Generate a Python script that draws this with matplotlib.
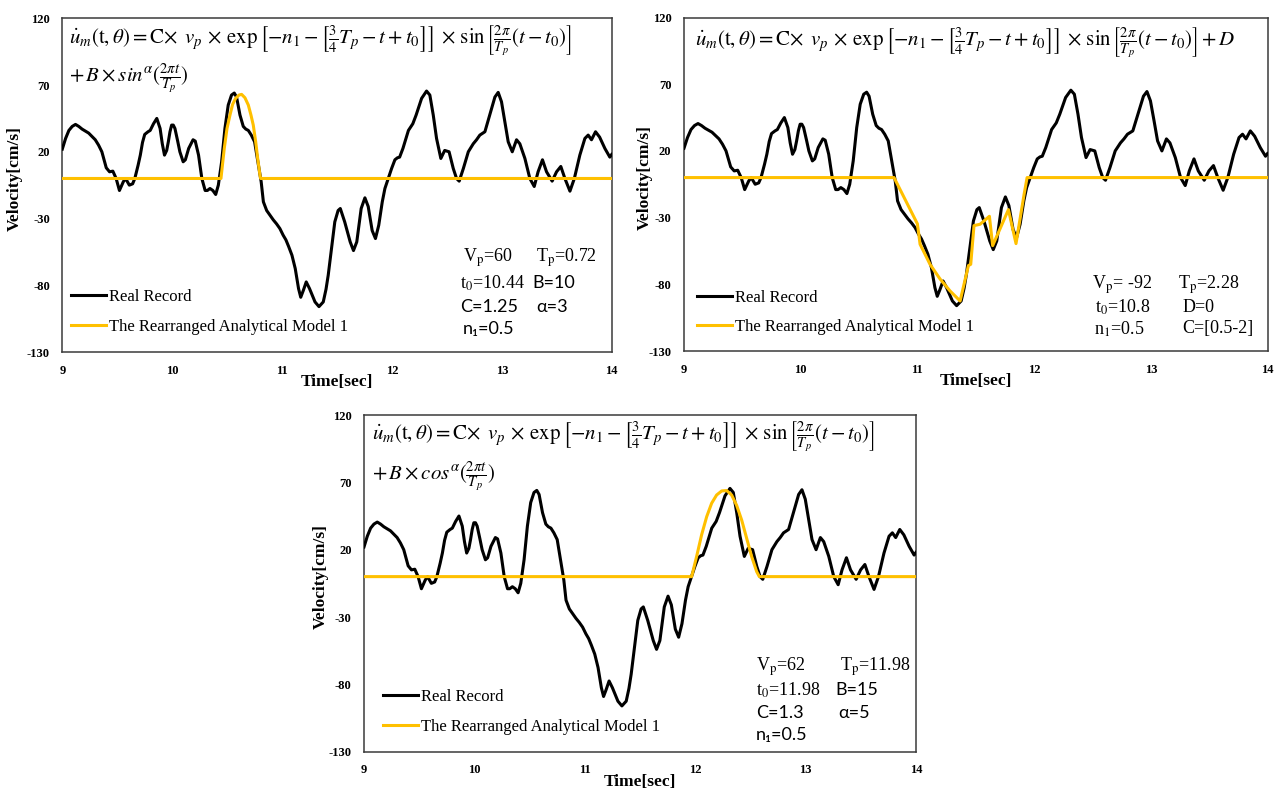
import matplotlib
matplotlib.use('Agg')
import matplotlib.pyplot as plt

# tamaño de la figura en pixeles
W, H = 1278, 793

# registro real (mismo en los tres paneles)
time_rec = [9.00, 9.03, 9.06, 9.09, 9.12, 9.15, 9.18, 9.21, 9.24, 9.27, 9.30, 9.33, 9.36, 9.38,
            9.40, 9.43, 9.46, 9.49, 9.52, 9.555, 9.576, 9.61, 9.64, 9.66, 9.69, 9.71, 9.73, 9.75,
            9.78, 9.80, 9.83, 9.86, 9.89, 9.91, 9.93, 9.95, 9.965, 9.98, 9.995, 10.01, 10.025, 10.05,
            10.07, 10.10, 10.12, 10.15, 10.19, 10.21, 10.24, 10.27, 10.30, 10.32, 10.344, 10.37,
            10.396, 10.42, 10.45, 10.48, 10.51, 10.54, 10.565, 10.586, 10.60, 10.617, 10.647, 10.67,
            10.693, 10.72, 10.75, 10.78, 10.81, 10.83, 10.86, 10.89, 10.92, 10.95, 10.98, 11.01,
            11.035, 11.06, 11.09, 11.12, 11.15, 11.17, 11.193, 11.22, 11.25, 11.30, 11.336, 11.375,
            11.40, 11.42, 11.45, 11.48, 11.51, 11.53, 11.57, 11.62, 11.65, 11.68, 11.72, 11.754,
            11.784, 11.82, 11.85, 11.88, 11.912, 11.936, 11.966, 11.997, 12.027, 12.05, 12.07, 12.10,
            12.15, 12.19, 12.22, 12.27, 12.315, 12.345, 12.376, 12.406, 12.445, 12.48, 12.52, 12.558,
            12.588, 12.612, 12.65, 12.695, 12.74, 12.77, 12.80, 12.846, 12.89, 12.937, 12.967, 12.997,
            13.028, 13.058, 13.095, 13.134, 13.164, 13.21, 13.255, 13.295, 13.33, 13.37, 13.407,
            13.458, 13.498, 13.537, 13.574, 13.62, 13.66, 13.71, 13.756, 13.786, 13.816, 13.853,
            13.89, 13.938, 13.983, 14.0]
vel_rec = [22, 30, 36, 39, 40.5, 39, 37, 35.5, 34, 31.5, 29, 25, 20, 14,
           8, 5, 5.5, 0, -9, -2.5, 0, -5, -4, 0, 10, 17.5, 27, 33,
           35, 36, 41, 45, 37.5, 26, 17.5, 21, 27.5, 35, 40, 40, 37.5, 28,
           20, 12.5, 14, 22.5, 29, 28, 17.5, 0, -9, -9, -7.5, -9,
           -12, -5, 12.5, 37.5, 55, 62.5, 64, 61, 55, 47.5, 39, 37,
           36, 32.5, 27.5, 12.5, -2.5, -17.5, -24, -27.5, -31, -34, -37.5, -42.5,
           -46, -51, -57.5, -67.5, -82.5, -89, -84, -77.5, -82.5, -92.5, -96, -92.5,
           -83, -72.5, -52.5, -32.5, -24, -22.5, -32.5, -47.5, -54, -47.5, -22.5, -14.5,
           -21, -39, -45, -35, -17.5, -7.5, 0, 7.5, 14, 15.5, 16, 22.5,
           36, 41, 47.5, 60, 65.5, 62.5, 47.5, 30, 15, 21, 20, 7.5,
           0, -2, 7.5, 20, 26, 29, 32.5, 35, 47.5, 61, 64.5, 57.5,
           42.5, 27.5, 20, 29, 26, 15, 0, -6, 5, 14, 5,
           -2, 5, 9, 0, -9.5, 0, 17.5, 30, 32.5, 29, 35,
           31, 22.5, 16, 18]

# modelo analitico de cada panel
t_model_a = [9.0, 10.444, 10.474, 10.499, 10.526, 10.55, 10.577, 10.608, 10.632, 10.662, 10.693,
             10.717, 10.738, 10.76, 10.778, 10.799, 10.805, 14.0]
v_model_a = [0, 0, 22.5, 37.5, 47.5, 55.5, 60, 62.5, 63, 60.5, 55,
             47.5, 40, 27.5, 15, 2.5, 0, 0]

t_model_b = [9.0, 10.80, 11.0, 11.023, 11.108, 11.194, 11.28, 11.366, 11.437, 11.457, 11.485,
             11.537, 11.617, 11.645, 11.78, 11.845, 11.914, 11.94, 14.0]
v_model_b = [0, 0, -34.7, -50, -65, -76, -85, -92.5, -66, -65, -36,
             -35, -29, -51, -24, -49.5, -12.7, 0, 0]

t_model_c = [9.0, 11.968, 12.013, 12.058, 12.104, 12.149, 12.194, 12.24, 12.285, 12.33, 12.375,
             12.421, 12.466, 12.511, 12.557, 12.581, 14.0]
v_model_c = [0, 0, 15, 31, 44.5, 54.5, 60.6, 63.6, 63.9, 60.6, 53,
             42, 28.5, 15, 3.7, 0, 0]

x_ticks = [9, 10, 11, 12, 13, 14]
y_ticks = [120, 70, 20, -30, -80, -130]

# formulas
eq_main = (r'$\dot{u}_m(\mathrm{t},\theta) = \mathrm{C}\!\times\; v_p \,\times\, \mathrm{exp}\,'
           r'\left[-n_1 - \left[\frac{3}{4}T_p - t + t_0\right]\right] \,\times\, \mathrm{sin}\,'
           r'\left[\frac{2\pi}{T_p}(t - t_0)\right]')
eq_a = [eq_main + '$', r'$+\, B \times sin^{\alpha}(\frac{2\pi t}{T_p})$']
eq_b = [eq_main + r' + D$']
eq_c = [eq_main + '$', r'$+\, B \times cos^{\alpha}(\frac{2\pi t}{T_p})$']

plt.rcParams['mathtext.fontset'] = 'stix'
plt.rcParams['font.family'] = 'Liberation Serif'
plt.rcParams['axes.unicode_minus'] = False

YELLOW = '#FFC000'
SERIF = 'Liberation Serif'
SANS = ['Lato', 'DejaVu Sans']

fig = plt.figure(figsize=(W / 100, H / 100), dpi=100)


def fx(x):
    return x / W


def fy(y):
    return 1 - y / H


# cada panel: rectangulo en pixeles (izq, arriba, der, abajo), modelo, formula, parametros
panels = [
    dict(rect=(62.3, 18.3, 611.7, 352), t_mod=t_model_a, v_mod=v_model_a, eq=eq_a,
         eq_pos=[(69, 41), (69, 78)], leg=(0.016, 0.12), ylab_x=-0.072,
         params=[(r'V$_{\rm p}$=60', 463, 258, SERIF), (r'T$_{\rm p}$=0.72', 536, 258, SERIF),
                 (r't$_{\rm 0}$=10.44', 460, 283, SERIF), ('B=10', 532, 283, SANS),
                 ('C=1.25', 460, 307, SANS), ('α=3', 536, 307, SANS),
                 ('n₁=0.5', 463, 329, SANS)]),
    dict(rect=(684, 17.5, 1267.5, 351), t_mod=t_model_b, v_mod=v_model_b, eq=eq_b,
         eq_pos=[(695, 43)], leg=(0.022, 0.115), ylab_x=-0.054,
         params=[(r'V$_{\rm p}$= -92', 1092, 285, SERIF), (r'T$_{\rm p}$=2.28', 1178, 285, SERIF),
                 (r't$_{\rm 0}$=10.8', 1095, 307, SERIF), ('D=0', 1183, 307, SERIF),
                 (r'n$_{\rm 1}$=0.5', 1094, 329, SERIF), ('C=[0.5-2]', 1182, 329, SERIF)]),
    dict(rect=(364, 415, 916, 751.7), t_mod=t_model_c, v_mod=v_model_c, eq=eq_c,
         eq_pos=[(372, 437), (372, 476)], leg=(0.034, 0.118), ylab_x=-0.063,
         params=[(r'V$_{\rm p}$=62', 756, 667, SERIF), (r'T$_{\rm p}$=11.98', 840, 667, SERIF),
                 (r't$_{\rm 0}$=11.98', 756, 690, SERIF), ('B=15', 835, 690, SANS),
                 ('C=1.3', 756, 713, SANS), ('α=5', 838, 713, SANS),
                 ('n₁=0.5', 756, 735, SANS)]),
]

for p in panels:
    l, t, r, b = p['rect']
    ax = fig.add_axes([fx(l), fy(b), (r - l) / W, (b - t) / H])

    ax.plot(time_rec, vel_rec, color='black', lw=2.2, label='Real Record', zorder=3)
    ax.plot(p['t_mod'], p['v_mod'], color=YELLOW, lw=2.2,
            label='The Rearranged Analytical Model 1', zorder=4)

    ax.set_xlim(9, 14)
    ax.set_ylim(-130, 120)
    ax.set_xticks(x_ticks)
    ax.set_yticks(y_ticks)
    ax.tick_params(length=0, labelsize=9, pad=9)
    for lab in ax.get_xticklabels() + ax.get_yticklabels():
        lab.set_fontweight('bold')
    for s in ax.spines.values():
        s.set_color('#3a3a3a')
        s.set_linewidth(1.1)

    ax.set_xlabel('Time[sec]', fontsize=12.5, fontweight='bold')
    ax.xaxis.set_label_coords(0.5, -0.066)
    ax.set_ylabel('Velocity[cm/s]', fontsize=12.5, fontweight='bold')
    ax.yaxis.set_label_coords(p['ylab_x'], 0.52)

    ax.legend(loc='center left', bbox_to_anchor=p['leg'], frameon=False, fontsize=12,
              handlelength=2.1, handletextpad=0.2, labelspacing=0.8,
              borderpad=0, borderaxespad=0)

    for line, (x0, y0) in zip(p['eq'], p['eq_pos']):
        fig.text(fx(x0), fy(y0), line, fontsize=15, va='center', ha='left')

    for txt, x0, y0, fam in p['params']:
        fig.text(fx(x0), fy(y0), txt, fontsize=13, va='center', ha='left', family=fam)

fig.savefig('out.png', dpi=100)
